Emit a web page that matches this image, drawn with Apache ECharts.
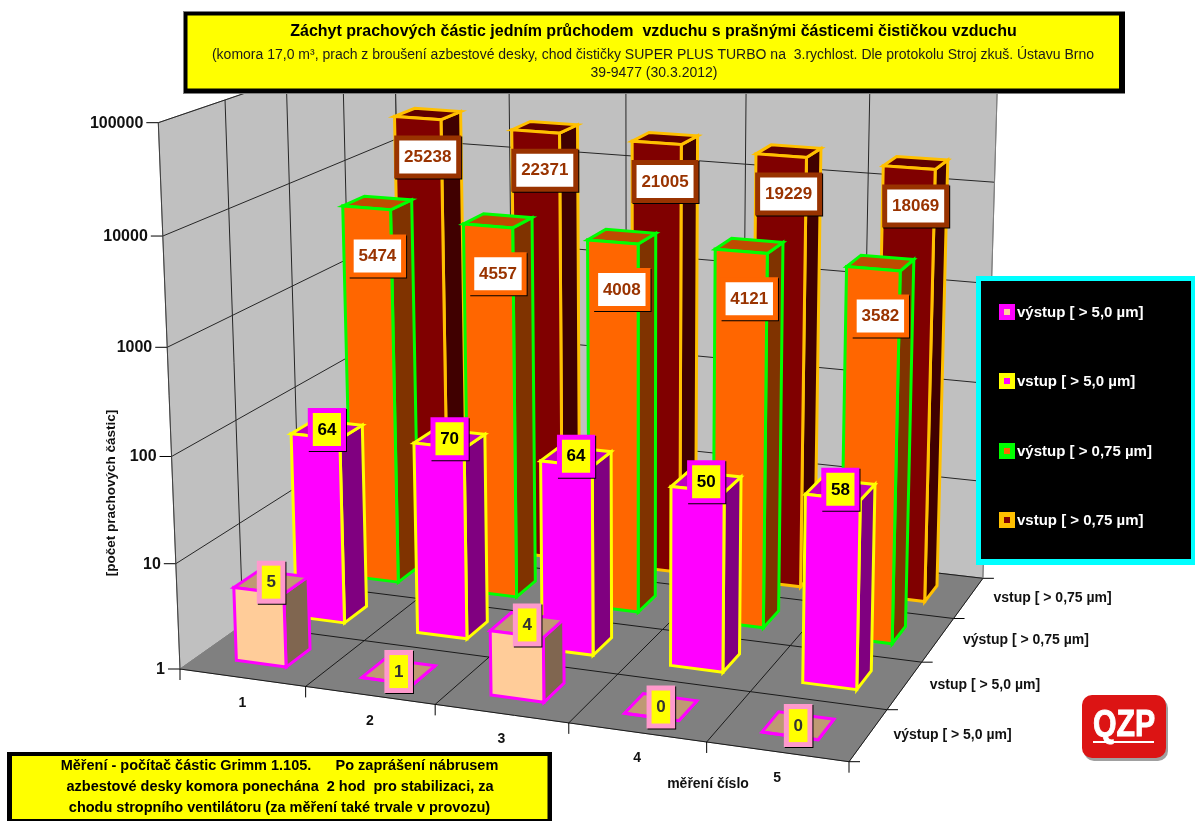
<!DOCTYPE html>
<html>
<head>
<meta charset="utf-8">
<style>html,body{margin:0;padding:0;background:#fff}#c{width:1195px;height:821px}</style>
<script src="https://cdn.jsdelivr.net/npm/echarts@6/dist/echarts.min.js"></script>
</head>
<body>
<div id="c"></div>
<script>
// ---- data ----
const columns = ['1', '2', '3', '4', '5'];
const rowNames = ['výstup [ > 5,0 µm]', 'vstup [ > 5,0 µm]', 'výstup [ > 0,75 µm]', 'vstup [ > 0,75 µm]'];
const yTicks = [1, 10, 100, 1000, 10000, 100000];
const vystup5 = [5, 1, 4, 0, 0];
const vstup5 = [64, 70, 64, 50, 58];
const vystup075 = [5474, 4557, 4008, 4121, 3582];
const vstup075 = [25238, 22371, 21005, 19229, 18069];
const titleLines = [
  'Záchyt prachových částic jedním průchodem  vzduchu s prašnými částicemi čističkou vzduchu',
  '(komora 17,0 m³, prach z broušení azbestové desky, chod čističky SUPER PLUS TURBO na  3.rychlost. Dle protokolu Stroj zkuš. Ústavu Brno',
  '39-9477 (30.3.2012)'
];
const noteLines = [
  'Měření - počítač částic Grimm 1.105.      Po zaprášení nábrusem',
  'azbestové desky komora ponechána  2 hod  pro stabilizaci, za',
  'chodu stropního ventilátoru (za měření také trvale v provozu)'
];
const xAxisName = 'měření číslo';
const yAxisName = '[počet prachových částic]';

// ---- styles per depth row (front to back) ----
const rowStyles = [
  {front:'#FFCC99', side:'#806650', top:'#BF9973', edge:'#FF00FF', box:'#FF99CC', fillBox:'#FFFF00', text:'#333333', shadow:true, dy:0},
  {front:'#FF00FF', side:'#800080', top:'#BF00BF', edge:'#FFFF00', box:'#FF00FF', fillBox:'#FFFF00', text:'#000000', shadow:true, dy:0},
  {front:'#FF6600', side:'#803300', top:'#BF4C00', edge:'#00FF00', box:'#FF6600', fillBox:'#FFFFFF', text:'#993300', shadow:true, dy:53},
  {front:'#800000', side:'#400000', top:'#600000', edge:'#FFC000', box:'#993300', fillBox:'#FFFFFF', text:'#993300', shadow:true, dy:43}
];
const FONT = '"Liberation Sans", Arial, sans-serif';

// ---- hidden plane holding the library scales: X across, log value upward ----
const G = {left: 0, top: 0, width: 1000, height: 800};

// ---- perspective camera of the 3D box (unit cube -> screen) ----
const O = [180, 669], FR = [849, 761.7], TL = [158.3, 122.7], BL = [404, 511];
const pa = -0.075, pb = -0.045, pc = 0.173;
const A = [FR[0]*(1+pa)-O[0], FR[1]*(1+pa)-O[1]];
const B = [TL[0]*(1+pb)-O[0], TL[1]*(1+pb)-O[1]];
const C = [BL[0]*(1+pc)-O[0], BL[1]*(1+pc)-O[1]];
function project(X, Y, Z) {
  const w = 1 + pa*X + pb*Y + pc*Z;
  return [(O[0]+A[0]*X+B[0]*Y+C[0]*Z)/w, (O[1]+A[1]*X+B[1]*Y+C[1]*Z)/w];
}
function norm(api, col, val) {
  const p = api.coord([col, Math.max(val, 1)]);
  return [(p[0]-G.left)/G.width, (G.top+G.height-p[1])/G.height];
}
const poly = (pts, fill, stroke, lw) => ({type:'polygon', silent:true, shape:{points:pts},
  style:{fill:fill, stroke:stroke, lineWidth:lw, lineJoin:'miter'}});
const seg = (a, b, col, lw) => ({type:'line', silent:true, shape:{x1:a[0],y1:a[1],x2:b[0],y2:b[1]},
  style:{stroke:col, lineWidth:lw||1, fill:null}});
const txt = (x, y, s, font, fill, align) => ({type:'text', silent:true,
  style:{x:x, y:y, text:s, font:font, fill:fill, align:align||'center', verticalAlign:'middle'}});

function renderBox(params, api) {
  const ch = [];
  const Yt = norm(api, 0, 100000)[1];
  const GRID = '#262626', EDGE = '#808080';
  // walls and floor
  ch.push(poly([project(0,0,0),project(0,Yt,0),project(0,Yt,1),project(0,0,1)], '#C0C0C0', EDGE, 1));
  ch.push(poly([project(0,0,1),project(0,Yt,1),project(1,Yt,1),project(1,0,1)], '#C0C0C0', EDGE, 1));
  ch.push(poly([project(0,0,0),project(1,0,0),project(1,0,1),project(0,0,1)], '#808080', '#808080', 1));
  // horizontal wall grid and value ticks
  yTicks.forEach(t => {
    const Y = norm(api, 0, t)[1];
    if (t > 1) {
      ch.push(seg(project(0,Y,0), project(0,Y,1), GRID));
      ch.push(seg(project(0,Y,1), project(1,Y,1), GRID));
    }
    const p = project(0,Y,0);
    ch.push(seg([p[0]-12,p[1]], p, '#000'));
    ch.push(txt(p[0]-15, p[1]+0.5, String(t), 'bold 16px '+FONT, '#111', 'right'));
  });
  // vertical wall grid and floor grid
  for (let r = 0; r <= 4; r++) {
    const Z = r/4;
    if (r > 0) ch.push(seg(project(0,0,Z), project(0,Yt,Z), GRID));
    ch.push(seg(project(0,0,Z), project(1,0,Z), '#1a1a1a'));
    const p = project(1,0,Z);
    ch.push(seg(p, [p[0]+11,p[1]], '#000'));
  }
  for (let c = 0; c <= 5; c++) {
    const X = norm(api, c, 1)[0];
    if (c > 0) ch.push(seg(project(X,0,1), project(X,Yt,1), c === 5 ? EDGE : GRID));
    if (c > 0) ch.push(seg(project(X,0,0), project(X,0,1), '#1a1a1a'));
    const p = project(X,0,0);
    ch.push(seg(p, [p[0],p[1]+11], '#000'));
  }
  ch.push(seg(project(0,0,0), project(0,Yt,0), '#404040'));
  // category labels
  columns.forEach((name, c) => {
    const p = project(norm(api, c+0.5, 1)[0], 0, 0);
    ch.push(txt(p[0], p[1]+26, name, 'bold 14px '+FONT, '#111'));
  });
  rowNames.forEach((name, r) => {
    const p = project(1, 0, (r+0.5)/4);
    ch.push(txt(p[0]+25, p[1], name, 'bold 14px '+FONT, '#111', 'left'));
  });
  return {type:'group', children:ch};
}

function barRenderer(r) {
  const st = rowStyles[r];
  return function (params, api) {
    const c = api.value(0), v = api.value(1);
    const x0 = norm(api, c+0.3, 1)[0], x1 = norm(api, c+0.7, 1)[0], Y = norm(api, c, v)[1];
    const z0 = (r+0.3)/4, z1 = (r+0.7)/4;
    const fbl = project(x0,0,z0), fbr = project(x1,0,z0), bbr = project(x1,0,z1);
    const ftl = project(x0,Y,z0), ftr = project(x1,Y,z0), btr = project(x1,Y,z1), btl = project(x0,Y,z1);
    return {type:'group', children:[
      poly([fbr,bbr,btr,ftr], st.side, st.edge, 3),
      poly([ftl,ftr,btr,btl], st.top, st.edge, 3),
      poly([fbl,fbr,ftr,ftl], st.front, st.edge, 3)
    ]};
  };
}
function labelRenderer(r) {
  const st = rowStyles[r];
  return function (params, api) {
    const c = api.value(0), v = api.value(1);
    const s = String(v);
    const Y = norm(api, c, v)[1];
    const p = project(norm(api, c+0.5, 1)[0], Y, (r+0.5)/4);
    const cx = p[0], cy = p[1] + st.dy;
    const iw = s.length*9.6 + 9, ih = 33, b = 5;
    const ow = iw+2*b, oh = ih+2*b, lx = cx-ow/2, ty = cy-oh/2;
    const rect = (x,y,w,h,f) => ({type:'rect', silent:true, shape:{x:x,y:y,width:w,height:h}, style:{fill:f}});
    return {type:'group', children:[
      rect(lx+1, ty+1, ow, oh, '#000'),
      rect(lx, ty, ow, oh, st.box),
      rect(lx+b, ty+b, iw, ih, st.fillBox),
      txt(cx, cy+0.5, s, 'bold 17px '+FONT, st.text)
    ]};
  };
}
const seriesRows = [vystup5, vstup5, vystup075, vstup075];
const toData = arr => arr.map((v, i) => [i, v]);
const series = [{
  type:'custom', name:'box', coordinateSystem:'cartesian2d', clip:false, silent:true, z:1,
  renderItem: renderBox, data:[[0, 1]], encode:{x:0, y:1}
}];
// bars painted from the back row to the front row
[3,2,1,0].forEach((r, i) => series.push({
  type:'custom', name:rowNames[r], coordinateSystem:'cartesian2d', clip:false, silent:true, z:2+i,
  renderItem: barRenderer(r), data: toData(seriesRows[r]), encode:{x:0, y:1}
}));
[3,2,1,0].forEach((r, i) => series.push({
  type:'custom', name:rowNames[r]+' labels', coordinateSystem:'cartesian2d', clip:false, silent:true, z:10+i,
  renderItem: labelRenderer(r), data: toData(seriesRows[r]), encode:{x:0, y:1}
}));

// ---- overlay boxes ----
const g = [];
const gRect = (x,y,w,h,f,extra) => g.push(Object.assign({type:'rect', z:50, silent:true, shape:{x,y,width:w,height:h}, style:{fill:f}}, extra||{}));
const gText = (x,y,s,font,fill,align,extra) => g.push(Object.assign({type:'text', z:51, silent:true, x:x, y:y,
  style:{text:s, font:font, fill:fill, align:align||'center', verticalAlign:'middle'}}, extra||{}));
// title
gRect(183,11,942,83,'#7f7f7f');
gRect(184,12,941,81,'#000');
gRect(187.5,15.5,931.5,73,'#FFFF00');
gText(653.5,32,titleLines[0],'bold 16px '+FONT,'#000');
gText(653,55,titleLines[1],'14px '+FONT,'#1a1a1a');
gText(654,73,titleLines[2],'14px '+FONT,'#1a1a1a');
// note
gRect(7,752,545,69,'#000');
gRect(12,756,535.5,63,'#FFFF00');
gText(279.5,766,noteLines[0],'bold 14.5px '+FONT,'#000');
gText(280,787,noteLines[1],'bold 14.5px '+FONT,'#000');
gText(279.5,808,noteLines[2],'bold 14.5px '+FONT,'#000');
// legend
gRect(976,276,219,289,'#00FFFF');
gRect(981,281,210,278,'#000');
const legendOrder = [0,1,2,3], legendY = [312,381,451,520];
legendOrder.forEach((r,i) => {
  const st = rowStyles[r], y = legendY[i];
  gRect(999,y-8,16,16,st.edge);
  gRect(1004,y-3,6,6,st.front);
  gText(1017,y+1,rowNames[r],'bold 15px '+FONT,'#fff','left');
});
// axis names
gText(708,784,xAxisName,'bold 14px '+FONT,'#111');
gText(111,493,yAxisName,'bold 13.5px '+FONT,'#111','center',{rotation:Math.PI/2});
// logo
g.push({type:'rect', z:50, silent:true, shape:{x:1084,y:698,width:84,height:63,r:10}, style:{fill:'#A0A0A0'}});
g.push({type:'rect', z:51, silent:true, shape:{x:1082,y:695,width:84,height:63,r:10}, style:{fill:'#DC1414'}});
gText(1124,726,'QZP','bold 36px '+FONT,'#fff','center',{scaleX:0.84, z:52, style:{text:'QZP', font:'bold 36px '+FONT, fill:'#fff', stroke:'#fff', lineWidth:1, align:'center', verticalAlign:'middle'}});
gRect(1093,741,61,2,'#fff',{z:52});

const chart = echarts.init(document.getElementById('c'), null, {width:1195, height:821, renderer:'canvas'});
chart.setOption({
  animation:false,
  backgroundColor:'#fff',
  grid:Object.assign({containLabel:false, show:false}, G),
  xAxis:{type:'value', min:0, max:5, show:false},
  yAxis:{type:'log', logBase:10, min:1, max:100000, show:false},
  tooltip:{show:false},
  series:series,
  graphic:{elements:g}
});
</script>
</body>
</html>
